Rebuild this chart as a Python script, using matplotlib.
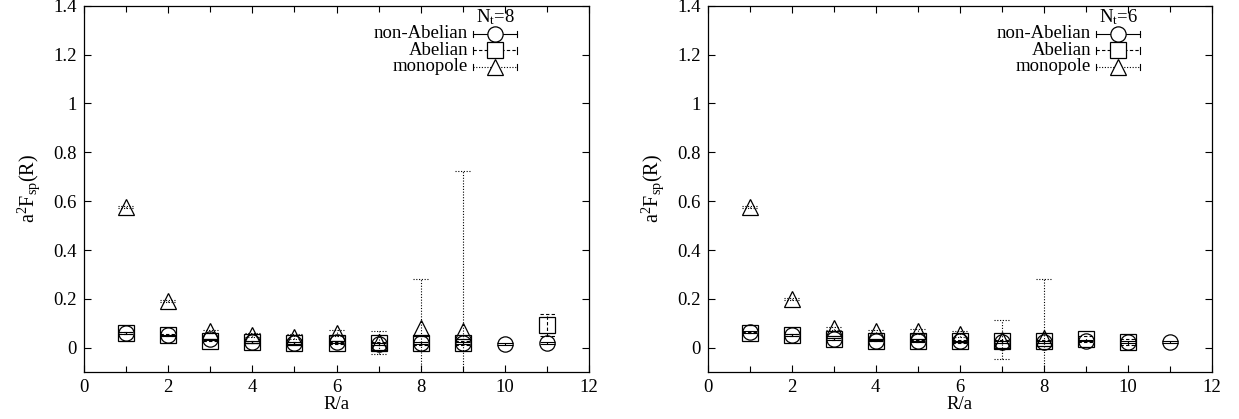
import matplotlib
matplotlib.use('Agg')
import matplotlib.pyplot as plt
import numpy as np
from matplotlib.ticker import MultipleLocator

plt.rcParams['font.family'] = ['Liberation Serif', 'DejaVu Serif']
plt.rcParams['mathtext.fontset'] = 'custom'
plt.rcParams['mathtext.rm'] = 'Liberation Serif'
plt.rcParams['mathtext.it'] = 'Liberation Serif:italic'

# N_t = 8
r_na_8 = [1, 2, 3, 4, 5, 6, 7, 8, 9, 10, 11]
f_na_8 = [0.060, 0.051, 0.035, 0.023, 0.019, 0.023, 0.015, 0.019, 0.019, 0.015, 0.019]
e_na_8 = [0.003, 0.003, 0.003, 0.003, 0.003, 0.003, 0.003, 0.003, 0.003, 0.003, 0.003]

r_ab_8 = [1, 2, 3, 4, 5, 6, 7, 8, 9, 11]
f_ab_8 = [0.060, 0.052, 0.030, 0.023, 0.019, 0.019, 0.019, 0.019, 0.019, 0.094]
e_ab_8 = [0.003, 0.003, 0.004, 0.004, 0.005, 0.005, 0.006, 0.006, 0.008, 0.045]

r_mo_8 = [1, 2, 3, 4, 5, 6, 7, 8, 9]
f_mo_8 = [0.577, 0.193, 0.067, 0.053, 0.045, 0.062, 0.022, 0.080, 0.070]
e_mo_8 = [0.004, 0.004, 0.006, 0.008, 0.010, 0.012, 0.047, 0.202, 0.655]

# N_t = 6
r_na_6 = [1, 2, 3, 4, 5, 6, 7, 8, 9, 10, 11]
f_na_6 = [0.064, 0.053, 0.037, 0.030, 0.027, 0.027, 0.023, 0.023, 0.029, 0.023, 0.023]
e_na_6 = [0.003, 0.003, 0.003, 0.003, 0.003, 0.003, 0.003, 0.003, 0.003, 0.003, 0.003]

r_ab_6 = [1, 2, 3, 4, 5, 6, 7, 8, 9, 10]
f_ab_6 = [0.062, 0.053, 0.035, 0.030, 0.027, 0.026, 0.026, 0.026, 0.035, 0.024]
e_ab_6 = [0.003, 0.003, 0.004, 0.004, 0.005, 0.005, 0.006, 0.008, 0.012, 0.012]

r_mo_6 = [1, 2, 3, 4, 5, 6, 7, 8]
f_mo_6 = [0.577, 0.200, 0.080, 0.067, 0.067, 0.057, 0.034, 0.040]
e_mo_6 = [0.004, 0.004, 0.006, 0.008, 0.010, 0.012, 0.080, 0.243]

nhan = ['non-Abelian', 'Abelian', 'monopole']
kieu_duong = ['-', (0, (3, 2)), (0, (1, 1.5))]
kieu_diem = ['o', 's', '^']
co_diem = [11, 11.5, 11]
nua_mu = 0.18  # nua chieu rong mu errorbar (don vi truc x)

fig = plt.figure(figsize=(12.39, 4.19), dpi=100)
ax1 = fig.add_axes([0.0676, 0.1115, 0.408, 0.875])
ax2 = fig.add_axes([0.5712, 0.1115, 0.407, 0.875])


def ve_panel(ax, cac_chuoi, tieu_de):
    for i, (r, f, e) in enumerate(cac_chuoi):
        r = np.array(r, dtype=float)
        f = np.array(f)
        e = np.array(e)
        cont = ax.errorbar(r, f, yerr=e, fmt=kieu_diem[i], ms=co_diem[i], mfc='none',
                           mec='black', mew=0.9, ecolor='black', elinewidth=0.8,
                           capsize=0, zorder=3 + i)
        for lc in cont[2]:
            lc.set_linestyle(kieu_duong[i])
        ax.hlines(f + e, r - nua_mu, r + nua_mu, colors='black', lw=0.8,
                  linestyles=[kieu_duong[i]], zorder=3 + i)
        ax.hlines(f - e, r - nua_mu, r + nua_mu, colors='black', lw=0.8,
                  linestyles=[kieu_duong[i]], zorder=3 + i)

    ax.set_xlim(0, 12)
    ax.set_ylim(-0.1, 1.4)
    ax.xaxis.set_major_locator(MultipleLocator(2))
    ax.xaxis.set_minor_locator(MultipleLocator(1))
    ax.set_yticks([0, 0.2, 0.4, 0.6, 0.8, 1, 1.2, 1.4])
    ax.set_yticklabels(['0', '0.2', '0.4', '0.6', '0.8', '1', '1.2', '1.4'])
    ax.tick_params(which='both', direction='in', top=True, right=True, labelsize=13.5, width=0.8)
    ax.tick_params(which='major', length=5, pad=5)
    ax.tick_params(which='minor', length=4)
    for sp in ax.spines.values():
        sp.set_linewidth(0.9)
    ax.set_xlabel('R/a', fontsize=13.5, labelpad=0)
    ax.set_ylabel(r'a$^2$F$_{\rm sp}$(R)', fontsize=14.5, labelpad=8)

    # chu thich kieu gnuplot
    ax.text(0.815, 0.968, tieu_de, transform=ax.transAxes, ha='center', va='center', fontsize=13.5)
    cac_y = [0.923, 0.878, 0.833]
    for i in range(3):
        y = cac_y[i]
        ax.text(0.7605, y, nhan[i], transform=ax.transAxes, ha='right', va='center', fontsize=13.5)
        ax.plot([0.770, 0.858], [y, y], transform=ax.transAxes, color='black', lw=0.8,
                ls=kieu_duong[i], clip_on=False)
        for xx in [0.770, 0.858]:
            ax.plot([xx, xx], [y - 0.009, y + 0.009], transform=ax.transAxes, color='black',
                    lw=0.8, clip_on=False)
        ax.plot([0.814], [y], transform=ax.transAxes, marker=kieu_diem[i], ms=co_diem[i],
                mfc='white', mec='black', mew=0.9, clip_on=False)


ve_panel(ax1, [(r_na_8, f_na_8, e_na_8), (r_ab_8, f_ab_8, e_ab_8), (r_mo_8, f_mo_8, e_mo_8)],
         r'N$_{\rm t}$=8')
ve_panel(ax2, [(r_na_6, f_na_6, e_na_6), (r_ab_6, f_ab_6, e_ab_6), (r_mo_6, f_mo_6, e_mo_6)],
         r'N$_{\rm t}$=6')

fig.savefig('out.png', dpi=100)
